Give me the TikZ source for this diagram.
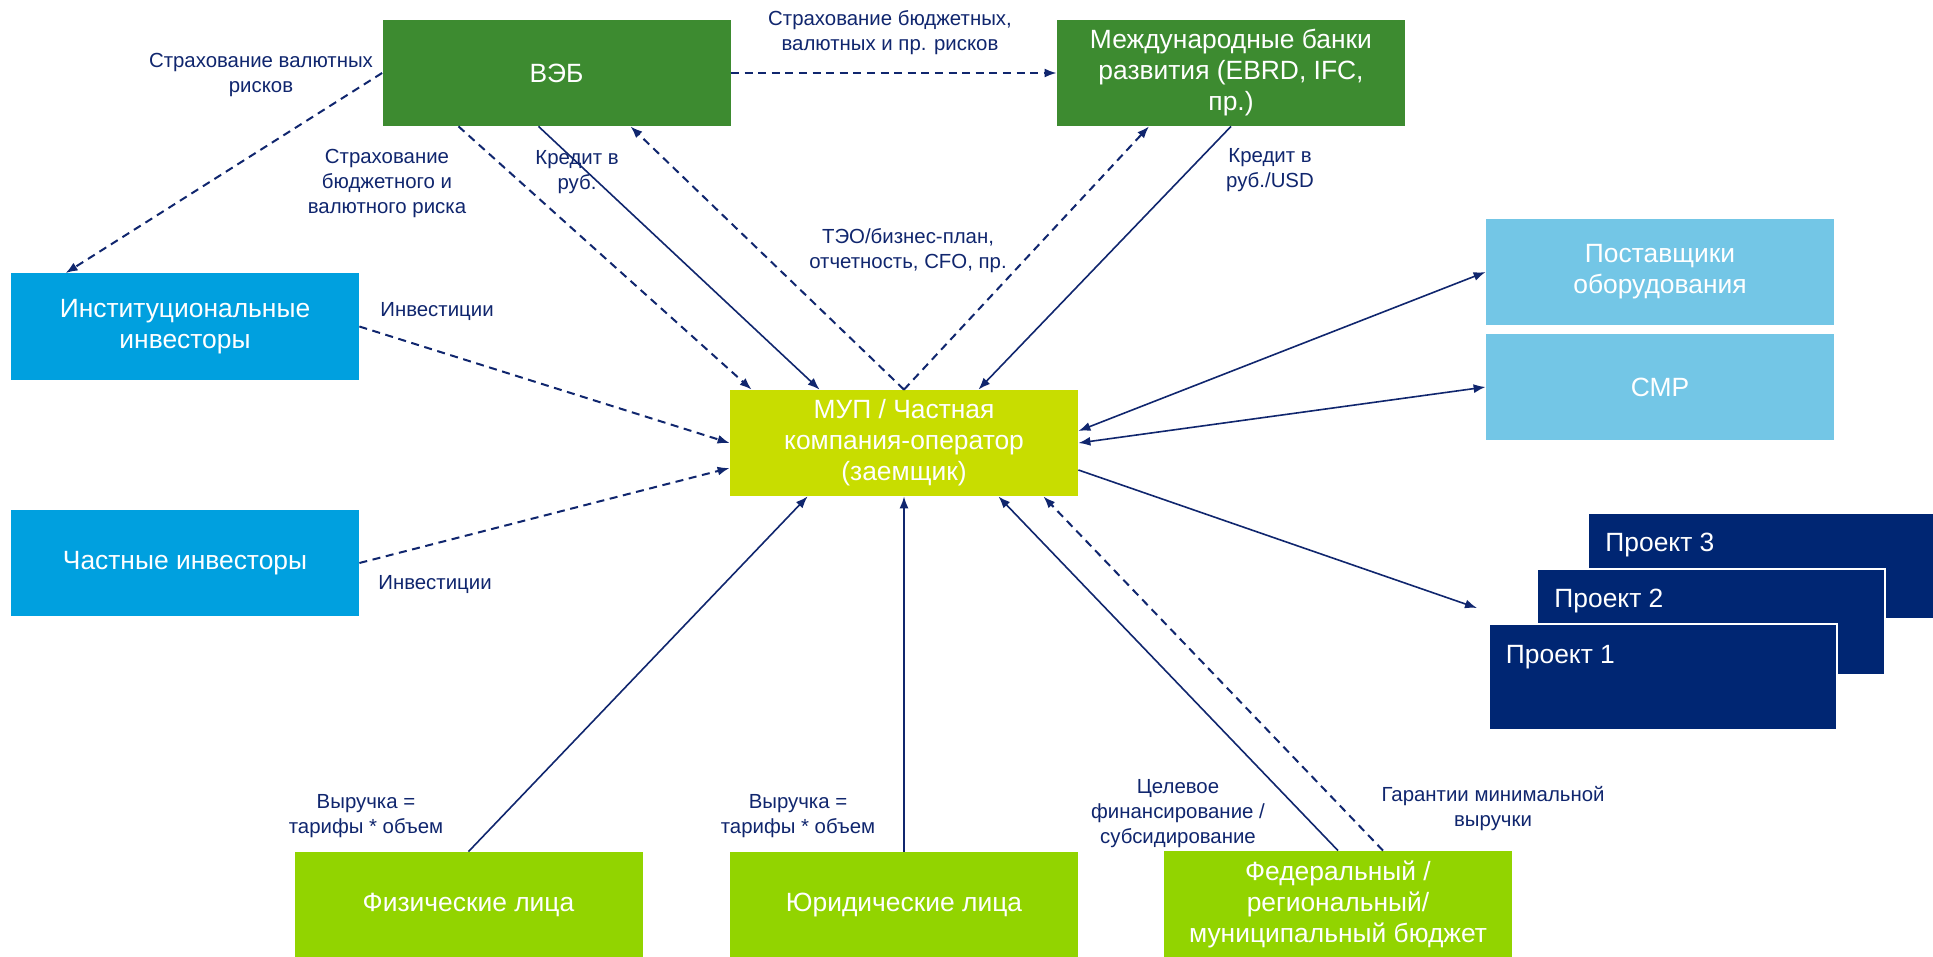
\documentclass[tikz,border=0pt]{standalone}
\usepackage{fontspec}
\setmainfont{Liberation Sans}
\usetikzlibrary{arrows.meta}
\usetikzlibrary{calc}

\definecolor{vebgreen}{RGB}{61,139,48}
\definecolor{invblue}{RGB}{0,160,223}
\definecolor{mupgreen}{RGB}{200,221,0}
\definecolor{usergreen}{RGB}{146,212,0}
\definecolor{supblue}{RGB}{115,198,230}
\definecolor{projnavy}{RGB}{0,38,115}
\definecolor{arrnavy}{RGB}{16,38,110}

\begin{document}
\begin{tikzpicture}[x=0.5pt,y=0.5pt,
    box/.style={rectangle,minimum width=174pt,minimum height=53pt,inner sep=2pt,text=white,align=center,font=\fontsize{13.2}{15.5}\selectfont},
    projbox/.style={box,fill=projnavy,draw=white,line width=1pt},
    projtext/.style={text=white,inner sep=0pt,anchor=west,font=\fontsize{13.2}{15.5}\selectfont},
    lbl/.style={text=arrnavy,align=center,inner sep=1pt,font=\fontsize{10.2}{12.5}\selectfont},
    flow/.style={draw=arrnavy,line width=0.8pt,-{Latex[length=6pt,width=4.5pt]}},
    flowdash/.style={flow,line width=1pt,dash pattern=on 4pt off 2.8pt},
    both/.style={flow,{Latex[length=6pt,width=4.5pt]}-{Latex[length=6pt,width=4.5pt]}}]
    \useasboundingbox[fill=white] (0,0) rectangle (1933,-957);

    \node[box,fill=vebgreen] (veb) at (556.5,-73) {ВЭБ};
    \node[box,fill=vebgreen] (banks) at (1231,-73) {Международные банки\\развития (EBRD, IFC,\\пр.)};
    \node[box,fill=invblue] (inst) at (185,-326.5) {Институциональные\\инвесторы};
    \node[box,fill=invblue] (priv) at (185,-563) {Частные инвесторы};
    \node[box,fill=mupgreen] (mup) at (904,-443) {МУП / Частная\\компания-оператор\\(заемщик)};
    \node[box,fill=usergreen] (phys) at (468.5,-905) {Физические лица};
    \node[box,fill=usergreen] (jur) at (904,-905) {Юридические лица};
    \node[box,fill=usergreen] (budget) at (1338,-904) {Федеральный /\\региональный/\\муниципальный бюджет};
    \node[box,fill=supblue] (supp) at (1660,-272) {Поставщики\\оборудования};
    \node[box,fill=supblue] (smr) at (1660,-387) {СМР};

    \node[projbox] (pr3) at (1762,-565.5) {};
    \node[projbox] (pr2) at (1711,-621.5) {};
    \node[projbox] (pr1) at (1662.5,-677) {};
    \node[projtext] (pr3t) at ([shift={(9pt,-17pt)}]pr3.north west) {Проект 3};
    \node[projtext] (pr2t) at ([shift={(9pt,-17pt)}]pr2.north west) {Проект 2};
    \node[projtext] (pr1t) at ([shift={(9pt,-17pt)}]pr1.north west) {Проект 1};

    \node[lbl] (lfx) at (261,-75) {Страхование валютных\\рисков};
    \node[lbl] (lbud) at (387,-183) {Страхование\\бюджетного и\\валютного риска};
    \node[lbl] (lrub) at (577,-172) {Кредит в\\руб.};
    \node[lbl] (lins) at (890,-33) {Страхование бюджетных,\\валютных и пр. рисков};
    \node[lbl] (lusd) at (1270,-170) {Кредит в\\руб./USD};
    \node[lbl] (lteo) at (908,-251) {ТЭО/бизнес-план,\\отчетность, CFO, пр.};
    \node[lbl] (linv1) at (437,-312) {Инвестиции};
    \node[lbl] (linv2) at (435,-585) {Инвестиции};
    \node[lbl] (lrev1) at (366,-816) {Выручка =\\тарифы * объем};
    \node[lbl] (lrev2) at (798,-816) {Выручка =\\тарифы * объем};
    \node[lbl] (lsub) at (1178,-814) {Целевое\\финансирование /\\субсидирование};
    \node[lbl] (lgar) at (1493,-809) {Гарантии минимальной\\выручки};

    \draw[flowdash] (veb.west) -- ([xshift=27.5pt]inst.north west);
    \draw[flowdash] ([xshift=-49pt]veb.south) -- ([xshift=11pt]mup.north west);
    \draw[flow] ([xshift=-9pt]veb.south) -- ([xshift=45pt]mup.north west);
    \draw[flowdash] (mup.north) -- ([xshift=37pt]veb.south);
    \draw[flowdash] (mup.north) -- ([xshift=-41pt]banks.south);
    \draw[flow] (banks.south) -- ([xshift=-50pt]mup.north east);
    \draw[flowdash] (veb.east) -- (banks.west);
    \draw[flowdash] (inst.east) -- (mup.west);
    \draw[flowdash] (priv.east) -- ([yshift=-12.5pt]mup.west);
    \draw[flow] (phys.north) -- ([xshift=39pt]mup.south west);
    \draw[flow] (jur.north) -- (mup.south);
    \draw[flow] (budget.north) -- ([xshift=-40pt]mup.south east);
    \draw[flowdash] ([xshift=22.5pt]budget.north) -- ([xshift=-17.5pt]mup.south east);
    \draw[both] ([yshift=6pt]mup.east) -- (supp.west);
    \draw[both] (mup.east) -- (smr.west);
    \coordinate (projin) at (1477,-608);
    \draw[flow] ([yshift=-13.5pt]mup.east) -- (projin);
\end{tikzpicture}
\end{document}
